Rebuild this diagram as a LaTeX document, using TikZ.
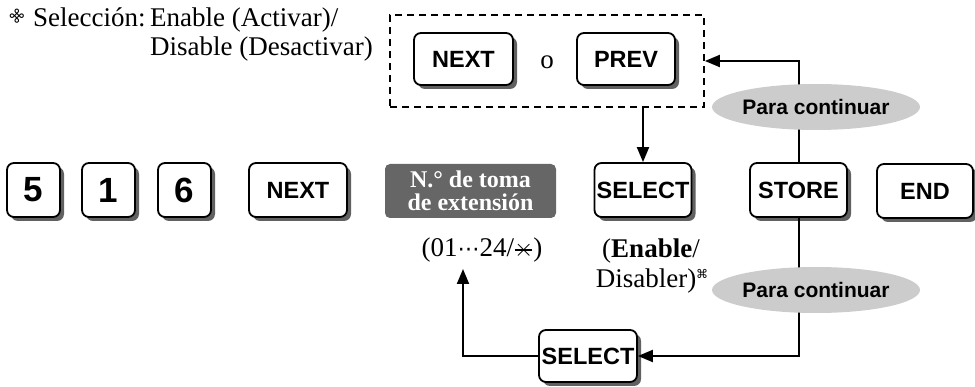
\documentclass[tikz,border=0pt]{standalone}
\usepackage{fontspec}
\setmainfont{Liberation Serif}
\newfontfamily\keyfont{Liberation Sans}
\newfontfamily\symfont{DejaVu Sans}
\usetikzlibrary{arrows.meta,shadows,shapes.geometric}
\newcommand{\sixstar}{\ooalign{\hfil$\times$\hfil\cr\hfil\rule[0.24em]{0.62em}{0.06em}\hfil}}
\begin{document}
\begin{tikzpicture}[x=1pt,y=-1pt,
  key/.style={draw, line width=1.8pt, rounded corners=7pt, fill=white, minimum height=54pt, inner sep=0pt,
    font=\keyfont\bfseries\fontsize{23.5}{27}\selectfont,
    drop shadow={shadow xshift=4pt,shadow yshift=-4pt,fill=black!62,opacity=1}},
  digit/.style={key, minimum width=53pt, font=\keyfont\bfseries\fontsize{35}{38}\selectfont},
  conn/.style={line width=2pt, -{Triangle[length=15pt,width=12pt]}},
  cont/.style={ellipse, fill=black!20, minimum width=166pt, minimum height=46pt, inner sep=0pt,
    font=\keyfont\bfseries\fontsize{21}{24}\selectfont},
  ser/.style={font=\fontsize{27}{30}\selectfont, inner sep=2pt},
  portbox/.style={fill=black!60, rounded corners=5pt, minimum width=171pt, minimum height=54pt, align=center,
    text=white, font=\bfseries\fontsize{24}{23.5}\selectfont, inner sep=0pt},
  dashbox/.style={draw, dash pattern=on 7pt off 5pt, line width=1.8pt, minimum width=314pt, minimum height=92pt, inner sep=0pt}
]
\useasboundingbox (0,0) rectangle (975,387);

% header
\node[font=\symfont\fontsize{15}{15}\selectfont, rotate=45, inner sep=0pt] (mark) at (17,16) {⌘};
\node[ser, anchor=base west] (selA) at (31,27) {\makebox[117pt][l]{Selección:}Enable (Activar)/};
\node[ser, anchor=base west] (selB) at (148,56) {Disable (Desactivar)};

% main row
\node[digit] (k5) at (33.5,190) {5};
\node[digit] (k1) at (108.5,190) {1};
\node[digit] (k6) at (184.5,190) {6};
\node[key, minimum width=98pt] (nx) at (298,190) {NEXT};
\node[portbox] (port) at (470.5,191) {N.° de toma\\de extensión};
\node[key, minimum width=97pt] (sel) at (643,190) {SELECT};
\node[key, minimum width=97pt] (store) at (798.5,190) {STORE};
\node[key, minimum width=96pt] (end) at (925,191) {END};

% dashed group
\node[dashbox] (dbox) at (547,61) {};
\node[key, minimum width=99pt, minimum height=52pt] (nxt) at (463.5,59) {NEXT};
\node[key, minimum width=98pt, minimum height=52pt] (prv) at (626,59) {PREV};
\node[ser, anchor=base] (o) at (547,69) {o};

% bottom select
\node[key, minimum width=98pt, minimum height=52pt] (selb) at (588,356) {SELECT};

% texts under
\node[ser, anchor=base] (range) at (482,257) {(01{\symfont\fontsize{22}{22}\selectfont ⋯}24/\sixstar)};
\node[ser, anchor=base] (en1) at (651,258) {(\textbf{Enable}/};
\node[ser, anchor=base] (en2) at (652,288) {Disabler)\raisebox{9pt}{\symfont\fontsize{12}{12}\selectfont ⌘}};
\coordinate (tip) at (463,269);

% connectors
\draw[conn] (dbox.south -| sel.north) -- (sel.north);
\draw[conn] (store.north) |- (dbox.east);
\draw[conn] (store.south) |- (selb.east);
\draw[conn] (selb.west) -| (tip);

% labels on lines
\node[cont] (pc1) at (816,107) {Para continuar};
\node[cont] (pc2) at (816,290) {Para continuar};
\end{tikzpicture}
\end{document}
